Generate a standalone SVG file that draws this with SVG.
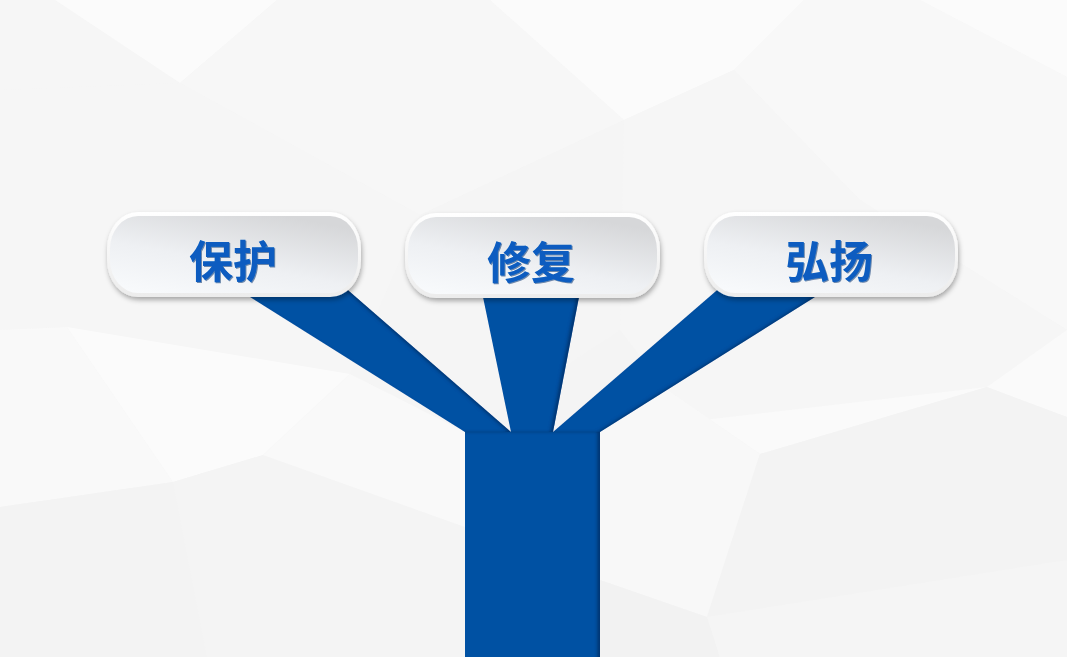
<svg xmlns="http://www.w3.org/2000/svg" width="1067" height="657" viewBox="0 0 1067 657">
  <defs>
    <style>
      .bg{stroke:none}
      .blue{fill:#0051a3;filter:url(#inset)}
      .rim{fill:url(#rimGrad);filter:url(#pillShadow)}
      .face{fill:url(#faceGrad)}
      .label{font-family:"Noto Sans CJK SC","Noto Sans",sans-serif;font-size:44px;font-weight:bold;fill:#085bc0;text-anchor:middle;filter:url(#textShadow)}
    </style>
    <linearGradient id="rimGrad" x1="0" y1="0" x2="0" y2="1">
      <stop offset="0" stop-color="#ffffff"/>
      <stop offset="1" stop-color="#ececec"/>
    </linearGradient>
    <linearGradient id="faceGrad" x1="0.1" y1="1" x2="0.7" y2="0">
      <stop offset="0" stop-color="#f8fafc"/>
      <stop offset="0.45" stop-color="#eef0f3"/>
      <stop offset="1" stop-color="#d6d7d9"/>
    </linearGradient>
    <filter id="pillShadow" x="-10%" y="-20%" width="120%" height="150%">
      <feDropShadow dx="1" dy="3" stdDeviation="2.5" flood-color="#000" flood-opacity="0.32"/>
    </filter>
    <filter id="textShadow" x="-10%" y="-10%" width="120%" height="130%">
      <feDropShadow dx="1" dy="1" stdDeviation="0.6" flood-color="#00306e" flood-opacity="0.55"/>
    </filter>
    <filter id="inset" x="-5%" y="-5%" width="110%" height="110%">
      <feGaussianBlur in="SourceAlpha" stdDeviation="1.6" result="blur"/>
      <feOffset in="blur" dx="-3" dy="0" result="off"/>
      <feComposite in="SourceAlpha" in2="off" operator="out" result="edge"/>
      <feFlood flood-color="#001a40" flood-opacity="0.6"/>
      <feComposite in2="edge" operator="in" result="shadow"/>
      <feMerge><feMergeNode in="SourceGraphic"/><feMergeNode in="shadow"/></feMerge>
    </filter>
  </defs>

  <g id="background">
    <rect class="bg" x="0" y="0" width="1067" height="657" fill="#f4f4f4"/>
    <polygon class="bg" points="0,0 55,0 180,83 0,90" fill="#f6f6f6"/>
    <polygon class="bg" points="55,0 277,0 180,83" fill="#fbfbfb"/>
    <polygon class="bg" points="277,0 490,0 624,120 420,215 180,83" fill="#f7f7f7"/>
    <polygon class="bg" points="490,0 804,0 734,70 624,120" fill="#fbfbfb"/>
    <polygon class="bg" points="804,0 920,0 1067,77 1067,330 860,200 734,70" fill="#f8f8f8"/>
    <polygon class="bg" points="920,0 1067,0 1067,77" fill="#fbfbfb"/>
    <polygon class="bg" points="0,90 180,83 420,215 350,374 263,455 173,482 67,327 0,330" fill="#f6f6f6"/>
    <polygon class="bg" points="0,330 67,327 173,482 0,507" fill="#f9f9f9"/>
    <polygon class="bg" points="67,327 350,374 263,455 173,482" fill="#fbfbfb"/>
    <polygon class="bg" points="420,215 624,120 620,330 465,432 350,374" fill="#f5f5f5"/>
    <polygon class="bg" points="0,507 173,482 207,657 0,657" fill="#f3f3f3"/>
    <polygon class="bg" points="173,482 263,455 465,527 465,657 207,657" fill="#f4f4f4"/>
    <polygon class="bg" points="263,455 350,374 465,432 465,527" fill="#f9f9f9"/>
    <polygon class="bg" points="624,120 734,70 860,200 1067,330 1067,417 987,387 760,454 667,390 620,330" fill="#f6f6f6"/>
    <polygon class="bg" points="600,432 667,390 760,454 987,387 1067,330 1067,417 987,387" fill="#fafafa"/>
    <polygon class="bg" points="600,432 667,390 760,454 707,617 600,580" fill="#f8f8f8"/>
    <polygon class="bg" points="760,454 987,387 1067,417 1067,560 707,617" fill="#f3f3f3"/>
    <polygon class="bg" points="600,580 707,617 720,657 600,657" fill="#f2f2f2"/>
    <polygon class="bg" points="707,617 1067,560 1067,657 720,657" fill="#f5f5f5"/>
  </g>

  <g id="connectors">
    <rect id="trunk" class="blue" x="465" y="432" width="135" height="240"/>
    <polygon id="branch-left" class="blue" points="231,285 342,285 511,432 465,432"/>
    <polygon id="branch-right" class="blue" points="834,285 723,285 553,432 600,432"/>
    <polygon id="branch-middle" class="blue" points="480.5,285 581.3,285 553,432 511,432"/>
  </g>

  <g id="node-baohu">
    <rect class="rim" x="107" y="212" width="254" height="85" rx="31" ry="37"/>
    <rect class="face" x="110" y="216" width="248" height="77" rx="28" ry="33"/>
    <text class="label" x="233" y="278">保护</text>
  </g>
  <g id="node-xiufu">
    <rect class="rim" x="405" y="213" width="255" height="85" rx="31" ry="37"/>
    <rect class="face" x="408" y="217" width="249" height="77" rx="28" ry="33"/>
    <text class="label" x="531" y="279">修复</text>
  </g>
  <g id="node-hongyang">
    <rect class="rim" x="704" y="212" width="254" height="85" rx="31" ry="37"/>
    <rect class="face" x="707" y="216" width="248" height="77" rx="28" ry="33"/>
    <text class="label" x="829" y="278">弘扬</text>
  </g>
</svg>
